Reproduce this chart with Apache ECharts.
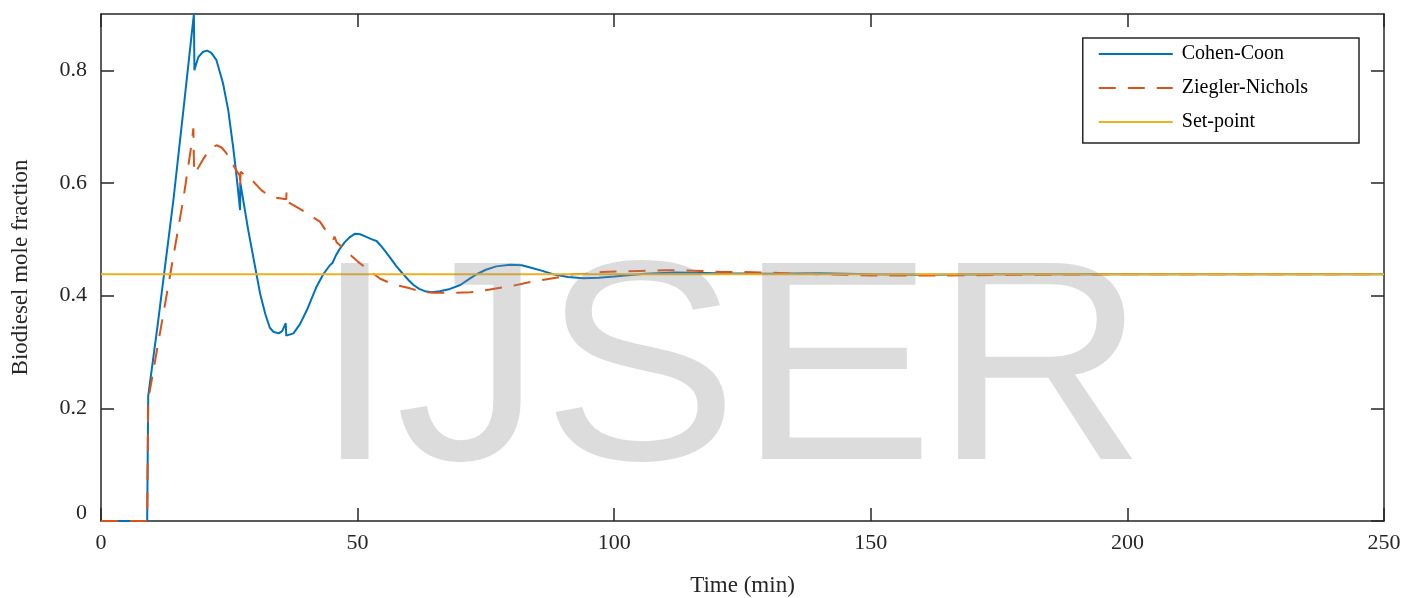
<!DOCTYPE html>
<html>
<head>
<meta charset="utf-8">
<script src="https://cdn.jsdelivr.net/npm/echarts@6/dist/echarts.min.js"></script>
<style>
html,body{margin:0;padding:0;background:#fff;}
#chart{width:1408px;height:598px;}
</style>
</head>
<body>
<div id="chart"></div>
<script>
// ---- data ----
const xTicks = [0, 50, 100, 150, 200, 250];
const yTicks = [0, 0.2, 0.4, 0.6, 0.8];
const seriesNames = ['Cohen-Coon', 'Ziegler-Nichols', 'Set-point'];
const setPoint = 0.438;

const cohenCoon = [
  [0,0],[9.0,0],[9.2,0.222],[11,0.345],[14.1,0.569],[16,0.725],[18.1,0.9],
  [18.2,0.80],[18.5,0.81],[19,0.824],[19.9,0.833],[20.7,0.835],[21.5,0.831],
  [22.5,0.818],[23.8,0.776],[24.8,0.729],[25.8,0.66],[26.5,0.605],[27.1,0.552],
  [27.15,0.60],[28.7,0.516],[30.3,0.438],[31,0.404],[32,0.368],[32.9,0.343],
  [33.6,0.336],[34.6,0.333],[35.3,0.337],[36.0,0.351],[36.1,0.329],[37.5,0.333],
  [38.8,0.35],[40.1,0.374],[42,0.416],[43.3,0.438],[44.6,0.454],[45.1,0.458],
  [45.8,0.472],[46.6,0.484],[47.5,0.495],[48.5,0.504],[49.5,0.51],[50.5,0.509],
  [51.8,0.504],[52.8,0.5],[53.7,0.497],[54.4,0.49],[55.3,0.48],[56.3,0.468],
  [57.5,0.453],[58.9,0.438],[60,0.427],[60.9,0.419],[62,0.412],[63.1,0.408],
  [64.5,0.406],[66,0.408],[68,0.412],[70,0.419],[72,0.431],[73.2,0.438],
  [75,0.446],[77,0.452],[79.7,0.455],[82,0.454],[84,0.449],[86,0.444],
  [88.1,0.438],[91,0.433],[94,0.431],[97,0.432],[100,0.434],[106,0.439],
  [112,0.441],[120,0.440],[130,0.439],[140,0.440],[150,0.438],[160,0.437],
  [175,0.438],[250,0.438]
];

const zieglerNichols = [
  [0,0],[9.0,0],[9.2,0.215],[12,0.36],[16,0.569],[17.5,0.66],[18,0.697],
  [18.15,0.617],[18.6,0.622],[19.2,0.631],[19.9,0.642],[20.6,0.652],[21.5,0.662],
  [22.5,0.667],[23.5,0.663],[24.5,0.652],[25.5,0.636],[26.4,0.622],[27.05,0.613],
  [27.1,0.59],[27.2,0.62],[29.4,0.605],[31.3,0.587],[32.5,0.579],[34.2,0.574],
  [36.1,0.571],[36.15,0.584],[36.3,0.567],[38,0.558],[39.7,0.549],[42.7,0.531],
  [44,0.513],[45.3,0.5],[45.5,0.505],[45.9,0.495],[47.2,0.484],[50.1,0.46],
  [51.8,0.448],[54.4,0.43],[57,0.42],[60.2,0.413],[62.5,0.407],[65,0.405],
  [68.6,0.405],[72,0.406],[75.8,0.411],[80,0.417],[83,0.423],[86,0.428],
  [89.4,0.433],[92,0.438],[94.6,0.439],[97.6,0.442],[101,0.443],[105,0.444],
  [110,0.445],[113,0.445],[117,0.444],[121,0.442],[125,0.442],[131,0.4405],
  [140,0.438],[150,0.436],[165,0.436],[180,0.437],[200,0.438],[250,0.438]
];

const setPointLine = [[0, setPoint], [250, setPoint]];

// ---- chart ----
const chart = echarts.init(document.getElementById('chart'), null, {renderer: 'canvas'});
const FONT = '"Liberation Serif", "Times New Roman", serif';
const axisColor = '#262626';
const tickStyle = {show: true, inside: true, length: 13, lineStyle: {color: axisColor, width: 1.5}};
const lineAxis = {show: true, onZero: false, lineStyle: {color: axisColor, width: 1.5}};

const option = {
  animation: false,
  backgroundColor: '#fff',
  grid: {left: 101, right: 24, top: 14, bottom: 77, containLabel: false, outerBoundsMode: 'none'},
  legend: {
    data: seriesNames,
    orient: 'vertical',
    right: 49,
    top: 38,
    padding: [6, 51, 11, 15],
    itemWidth: 74,
    itemHeight: 14,
    itemGap: 14,
    borderColor: '#262626',
    borderWidth: 1.5,
    backgroundColor: '#fff',
    itemStyle: {opacity: 0, color: 'rgba(0,0,0,0)', borderWidth: 0},
    textStyle: {fontFamily: FONT, fontSize: 20, color: '#000', padding: [0, 0, 0, 4]}
  },
  xAxis: [{
    type: 'value', min: 0, max: 250, interval: 50,
    name: 'Time (min)', nameLocation: 'middle', nameGap: 53,
    nameTextStyle: {fontFamily: FONT, fontSize: 23, color: '#262626'},
    axisLine: lineAxis,
    axisTick: tickStyle,
    axisLabel: {fontFamily: FONT, fontSize: 22, color: '#262626', margin: 11,
      formatter: v => xTicks.includes(v) ? String(v) : ''},
    splitLine: {show: false}
  }, {
    type: 'value', position: 'top', min: 0, max: 250, interval: 50,
    axisLine: lineAxis, axisTick: tickStyle,
    axisLabel: {show: false}, splitLine: {show: false}
  }],
  yAxis: [{
    type: 'value', min: 0, max: 0.9, interval: 0.2,
    name: 'Biodiesel mole fraction', nameLocation: 'middle', nameGap: 69, nameRotate: 90,
    nameTextStyle: {fontFamily: FONT, fontSize: 23, color: '#262626'},
    axisLine: lineAxis,
    axisTick: Object.assign({customValues: yTicks}, tickStyle),
    axisLabel: {fontFamily: FONT, fontSize: 22, color: '#262626', margin: 14, showMaxLabel: false,
      formatter: v => {
        const t = yTicks.find(y => Math.abs(y - v) < 1e-9);
        return t === undefined ? '' : (t === 0 ? '{z|0}' : t.toFixed(1));
      },
      rich: {z: {fontFamily: FONT, fontSize: 22, color: '#262626', padding: [0, 0, 16, 0]}}
    },
    splitLine: {show: false}
  }, {
    type: 'value', position: 'right', min: 0, max: 0.9, interval: 0.2,
    axisLine: lineAxis,
    axisTick: Object.assign({customValues: yTicks}, tickStyle),
    axisLabel: {show: false}, splitLine: {show: false}
  }],
  series: [
    {
      name: seriesNames[0], type: 'line', data: cohenCoon, showSymbol: false, symbol: 'none',
      lineStyle: {color: '#0072BD', width: 2}, itemStyle: {color: '#0072BD'}, z: 2
    },
    {
      name: seriesNames[1], type: 'line', data: zieglerNichols, showSymbol: false, symbol: 'none',
      lineStyle: {color: '#D95319', width: 2, type: [17, 12]}, itemStyle: {color: '#D95319'}, z: 3
    },
    {
      name: seriesNames[2], type: 'line', data: setPointLine, showSymbol: false, symbol: 'none',
      lineStyle: {color: '#EDB120', width: 2}, itemStyle: {color: '#EDB120'}, z: 4
    }
  ],
  graphic: [{
    type: 'text', z: 100, silent: true,
    left: 314, top: 238, scaleX: 1.03,
    style: {
      text: 'IJSER',
      font: '285px "Liberation Sans", Arial, sans-serif',
      fill: 'rgba(140,140,140,0.3)'
    }
  }]
};
chart.setOption(option);
</script>
</body>
</html>
